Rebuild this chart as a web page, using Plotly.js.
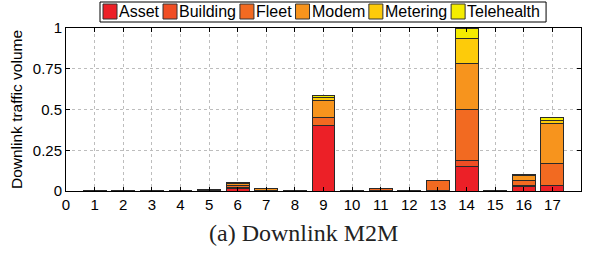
<!DOCTYPE html>
<html><head><meta charset="utf-8">
<script src="https://cdn.plot.ly/plotly-3.0.1.min.js"></script>
<style>html,body{margin:0;padding:0;background:#fff}#c{width:589px;height:253px}</style>
</head><body><div id="c"></div>
<script>
const hours = [1,2,3,4,5,6,7,8,9,10,11,12,13,14,15,16,17];
const asset      = [0.001,0.001,0.001,0.001,0.002,0.015,0.000,0.001,0.400,0.001,0.000,0.001,0.001,0.150,0.001,0.028,0.031];
const building   = [0.001,0.001,0.001,0.001,0.002,0.008,0.000,0.001,0.003,0.001,0.001,0.001,0.003,0.037,0.001,0.004,0.004];
const fleet      = [0.001,0.001,0.001,0.001,0.002,0.008,0.001,0.001,0.045,0.001,0.012,0.001,0.062,0.315,0.001,0.030,0.136];
const modem      = [0.000,0.000,0.000,0.000,0.001,0.012,0.017,0.000,0.108,0.000,0.001,0.000,0.001,0.280,0.001,0.032,0.242];
const metering   = [0.000,0.000,0.000,0.000,0.001,0.008,0.000,0.000,0.018,0.000,0.000,0.000,0.000,0.156,0.000,0.006,0.021];
const telehealth = [0.000,0.000,0.000,0.000,0.000,0.004,0.000,0.000,0.013,0.000,0.000,0.000,0.000,0.062,0.000,0.003,0.015];
const names  = ['Asset','Building','Fleet','Modem','Metering','Telehealth'];
const series = [asset, building, fleet, modem, metering, telehealth];
const colors = ['#ec2027','#f04e24','#f26a21','#f7941d','#fdcb0a','#f5ec00'];
const xticks = [0,1,2,3,4,5,6,7,8,9,10,11,12,13,14,15,16,17];
const yticks = [0,0.25,0.5,0.75,1];
const yticktext = ['0','0.25','0.5','0.75','1'];

const W=589,H=253, L=66, R=8, T=28, B=62;
const pw=W-L-R, ph=H-T-B;
const px=x=>(x-L)/pw, py=y=>(H-B-y)/ph;

const traces = series.map((v,i)=>({
  type:'bar', x:hours, y:v, name:names[i], width:0.8,
  marker:{color:colors[i], line:{color:'#2a2a2a', width:1}}
}));

// custom legend
const legFont = 16, legFam='Liberation Sans, Arial, sans-serif';
const cv=document.createElement('canvas').getContext('2d');
cv.font = legFont+'px "Liberation Sans"';
const shapes=[], annots=[];
let cx=103; const boxL=100, boxT=2, boxB=22, sw=14;
names.forEach((n,i)=>{
  shapes.push({type:'rect', xref:'paper', yref:'paper', x0:px(cx), x1:px(cx+sw), y0:py(19), y1:py(4),
    fillcolor:colors[i], line:{color:'#333', width:1}, layer:'above'});
  cx += sw+1;
  const tw = cv.measureText(n).width;
  annots.push({text:n, xref:'paper', yref:'paper', x:px(cx), y:py(12), xanchor:'left', yanchor:'middle',
    showarrow:false, borderpad:0, font:{family:legFam, size:legFont, color:'#000'}});
  cx += tw+5;
});
shapes.unshift({type:'rect', xref:'paper', yref:'paper', x0:px(boxL), x1:px(cx+2), y0:py(boxB), y1:py(boxT),
  fillcolor:'#fff', line:{color:'#000', width:1}, layer:'above'});

annots.push({text:'(a) Downlink M2M', xref:'paper', yref:'paper', x:px(303), y:py(233),
  xanchor:'center', yanchor:'middle', showarrow:false,
  font:{family:'Liberation Serif, DejaVu Serif, serif', size:24, color:'#222'}});

const axCommon = {ticks:'inside', ticklen:4, tickcolor:'#000', mirror:'allticks',
  showline:true, linecolor:'#000', linewidth:1, automargin:false,
  showgrid:true, gridcolor:'#bdbdbd', griddash:'dot', gridwidth:1,
  zeroline:false, tickfont:{size:15}};

const layout = {
  width:W, height:H,
  margin:{l:L, r:R, t:T, b:B},
  paper_bgcolor:'#fff', plot_bgcolor:'#fff',
  barmode:'stack',
  font:{family:'Liberation Sans, Arial, sans-serif', size:15, color:'#000'},
  showlegend:false,
  xaxis:Object.assign({range:[0,18], tickvals:xticks, ticktext:xticks.map(String)}, axCommon),
  yaxis:Object.assign({range:[0,1], tickvals:yticks, ticktext:yticktext,
    title:{text:'Downlink traffic volume', font:{size:15.5}, standoff:6}}, axCommon),
  shapes:shapes, annotations:annots
};
Plotly.newPlot('c', traces, layout, {staticPlot:true, displayModeBar:false});
</script></body></html>
